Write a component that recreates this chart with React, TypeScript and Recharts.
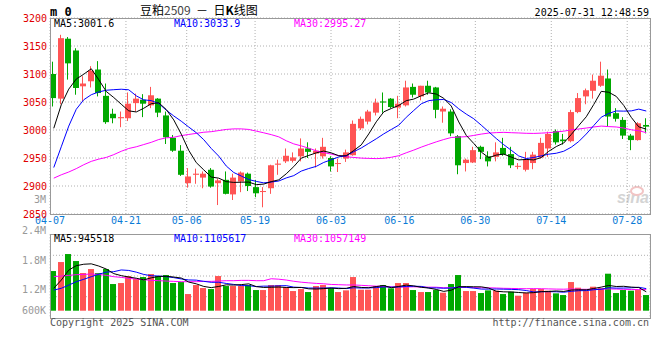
import { ComposedChart, Bar, Line, XAxis, YAxis, CartesianGrid } from 'recharts';

const RED = '#ff5454';
const GREEN = '#00a800';
const BLUE = '#0000ff';
const PINK = '#ff00ff';
const MONO = '"DejaVu Sans Mono", monospace';

const dates = [
  '04-07', '04-08', '04-09', '04-10', '04-11', '04-14', '04-15', '04-16', '04-17', '04-18',
  '04-21', '04-22', '04-23', '04-24', '04-25', '04-28', '04-29', '04-30',
  '05-06', '05-07', '05-08', '05-09', '05-12', '05-13', '05-14', '05-15', '05-16',
  '05-19', '05-20', '05-21', '05-22', '05-23', '05-26', '05-27', '05-28', '05-29', '05-30',
  '06-03', '06-04', '06-05', '06-06', '06-09', '06-10', '06-11', '06-12', '06-13',
  '06-16', '06-17', '06-18', '06-19', '06-20', '06-23', '06-24', '06-25', '06-26', '06-27',
  '06-30', '07-01', '07-02', '07-03', '07-04', '07-07', '07-08', '07-09', '07-10', '07-11',
  '07-14', '07-15', '07-16', '07-17', '07-18', '07-21', '07-22', '07-23', '07-24', '07-25',
  '07-28', '07-29', '07-30', '07-31',
];

const opens = [
  3100, 3056, 3163, 3142, 3078, 3087, 3108, 3061, 3029, 3021,
  3021, 3048, 3054, 3044, 3056, 3026, 2986, 2963, 2905, 2920,
  2915, 2929, 2905, 2911, 2885, 2908, 2922, 2898, 2890, 2896,
  2938, 2944, 2945, 2953, 2967, 2958, 2953, 2950, 2940, 2949,
  2955, 3003, 3015, 3031, 3051, 3056, 3040, 3044, 3077, 3060,
  3079, 3076, 3033, 3033, 2989, 2941, 2942, 2970, 2953, 2952,
  2968, 2957, 2935, 2929, 2941, 2951, 2967, 2998, 2983, 2980,
  3032, 3060, 3070, 3079, 3092, 3030, 3018, 2990, 2982, 3009,
];
const highs = [
  3122, 3170, 3166, 3146, 3096, 3114, 3123, 3083, 3038, 3033,
  3067, 3065, 3064, 3077, 3057, 3033, 2991, 2973, 2932, 2931,
  2926, 2932, 2913, 2926, 2922, 2926, 2924, 2911, 2898, 2938,
  2947, 2967, 2960, 2985, 2978, 2967, 2986, 2953, 2949, 2965,
  3017, 3024, 3036, 3056, 3067, 3057, 3061, 3088, 3083, 3079,
  3088, 3077, 3042, 3037, 2991, 2949, 2970, 2972, 2962, 2978,
  2986, 2970, 2941, 2961, 2961, 2986, 2997, 3001, 2993, 3036,
  3066, 3074, 3099, 3122, 3108, 3039, 3023, 2993, 3014, 3021,
];
const lows = [
  3042, 3046, 3090, 3063, 3052, 3076, 3060, 3011, 3012, 3005,
  3016, 3033, 3023, 3039, 3023, 2975, 2961, 2918, 2897, 2904,
  2896, 2897, 2866, 2885, 2875, 2889, 2891, 2880, 2862, 2886,
  2920, 2941, 2942, 2944, 2950, 2933, 2949, 2926, 2925, 2943,
  2954, 3000, 3010, 3026, 3031, 3039, 3021, 3042, 3058, 3053,
  3063, 3021, 3013, 2989, 2921, 2926, 2941, 2948, 2935, 2944,
  2954, 2932, 2930, 2926, 2930, 2949, 2952, 2974, 2974, 2978,
  3030, 3046, 3056, 3077, 3006, 3015, 2984, 2964, 2981, 2994,
];
const closes = [
  3057, 3164, 3119, 3075, 3083, 3106, 3066, 3014, 3021, 3023,
  3047, 3056, 3047, 3062, 3031, 2987, 2963, 2920, 2917, 2922,
  2922, 2899, 2910, 2886, 2915, 2924, 2900, 2887, 2891, 2937,
  2940, 2954, 2951, 2967, 2961, 2963, 2970, 2935, 2941, 2960,
  3011, 3020, 3033, 3049, 3049, 3041, 3047, 3076, 3063, 3079,
  3067, 3036, 3038, 2994, 2937, 2947, 2964, 2961, 2944, 2960,
  2956, 2937, 2936, 2948, 2956, 2977, 2993, 2978, 2980, 3032,
  3057, 3071, 3088, 3097, 3024, 3020, 2990, 2982, 3012, 3006,
];

const ma5 = [
  3003, 3045, 3073, 3091, 3099.6, 3109.4, 3089.8, 3068.8, 3058.0, 3046.0,
  3034.2, 3032.2, 3038.8, 3047.0, 3048.6, 3036.6, 3018.0, 2992.6, 2963.6, 2941.8,
  2928.8, 2916.0, 2914.0, 2907.8, 2906.4, 2906.8, 2907.0, 2902.4, 2903.4, 2907.8,
  2911.0, 2921.8, 2934.6, 2949.8, 2954.6, 2959.2, 2962.4, 2959.2, 2954.0, 2953.8,
  2963.4, 2973.4, 2993.0, 3014.6, 3032.4, 3038.4, 3043.8, 3052.4, 3055.2, 3061.2,
  3066.4, 3064.2, 3056.6, 3042.8, 3014.4, 2990.4, 2976.0, 2960.6, 2950.6, 2955.2,
  2957.0, 2951.6, 2946.6, 2947.4, 2946.6, 2950.8, 2962.0, 2970.4, 2976.8, 2992.0,
  3008.0, 3023.6, 3045.6, 3069.0, 3067.4, 3060.0, 3043.8, 3022.6, 3005.6, 3001.6,
];
const ma10 = [
  2933, 2970, 3007, 3037, 3054, 3063, 3068, 3071, 3072, 3072.8,
  3071.8, 3061.0, 3053.8, 3052.5, 3047.3, 3035.4, 3025.1, 3015.7, 3005.3, 2995.2,
  2982.7, 2967.0, 2953.3, 2935.7, 2924.1, 2917.8, 2911.5, 2908.2, 2905.6, 2907.1,
  2908.9, 2914.4, 2918.5, 2926.6, 2931.2, 2935.1, 2942.1, 2946.9, 2951.9, 2954.2,
  2961.3, 2967.9, 2976.1, 2984.3, 2993.1, 3000.9, 3008.6, 3022.7, 3034.9, 3046.8,
  3052.4, 3054.0, 3054.5, 3049.0, 3037.8, 3028.4, 3020.1, 3008.6, 2996.7, 2984.8,
  2973.7, 2963.8, 2953.6, 2949.0, 2950.9, 2953.9, 2956.8, 2958.5, 2962.1, 2969.3,
  2979.4, 2992.8, 3008.0, 3022.9, 3029.7, 3034.0, 3033.7, 3034.1, 3037.3, 3033.9,
];
const ma30 = [
  2914, 2920, 2925, 2931, 2938, 2944, 2948, 2951, 2956, 2962,
  2967, 2970, 2974, 2978, 2983, 2986, 2987, 2990, 2992, 2994,
  2996, 2997, 2999, 3001, 3002, 3002, 3001, 2998, 2995, 2991.7,
  2987.8, 2980.8, 2975.2, 2971.6, 2967.5, 2962.8, 2959.6, 2956.9, 2954.3, 2952.2,
  2951.0, 2949.8, 2949.3, 2948.9, 2949.5, 2951.3, 2954.1, 2959.3, 2964.1, 2969.4,
  2974.2, 2978.8, 2983.0, 2986.6, 2987.4, 2988.1, 2990.3, 2992.7, 2994.5, 2995.3,
  2995.8, 2995.2, 2994.7, 2994.1, 2993.9, 2994.4, 2995.2, 2996.6, 2997.9, 3000.3,
  3001.8, 3003.5, 3005.4, 3007.0, 3006.1, 3005.4, 3003.5, 3000.4, 2998.7, 2995.27,
];

const volumes = [
  1983000, 2433000, 2833000, 2483000, 1883000, 2083000, 1883000, 2083000, 1333000, 1383000,
  1733000, 1583000, 1683000, 1833000, 1733000, 1783000, 1383000, 1433000, 833000, 1283000,
  1133000, 1083000, 1733000, 1233000, 1233000, 1233000, 1283000, 1033000, 1033000, 1283000,
  1283000, 1183000, 983000, 1083000, 933000, 1233000, 1283000, 1133000, 933000, 1017000,
  1683000, 1050000, 1050000, 1233000, 1283000, 1117000, 1383000, 1383000, 1033000, 933000,
  933000, 1033000, 900000, 1333000, 1783000, 983000, 983000, 883000, 1017000, 1000000,
  833000, 950000, 750000, 900000, 1083000, 1083000, 1000000, 867000, 783000, 1433000,
  1150000, 983000, 1200000, 1133000, 1850000, 883000, 1033000, 1000000, 1033000, 783000,
];
const volMa5 = [
  1120000, 1530000, 2030000, 2250000, 2323000, 2343000, 2233000, 2083000, 1853000, 1753000,
  1683000, 1623000, 1543000, 1643000, 1713000, 1723000, 1683000, 1633000, 1433000, 1343000,
  1213000, 1153000, 1213000, 1293000, 1283000, 1303000, 1343000, 1203000, 1163000, 1173000,
  1183000, 1163000, 1153000, 1163000, 1093000, 1083000, 1103000, 1133000, 1103000, 1120000,
  1210000, 1163000, 1147000, 1207000, 1260000, 1147000, 1213000, 1280000, 1240000, 1170000,
  1133000, 1063000, 966000, 1026000, 1196000, 1206000, 1196000, 1193000, 1130000, 973000,
  943000, 937000, 910000, 887000, 903000, 953000, 963000, 987000, 963000, 1033000,
  1047000, 1043000, 1110000, 1180000, 1263000, 1210000, 1220000, 1180000, 1160000, 945518,
];
const volMa10 = [
  1030000, 1120000, 1280000, 1450000, 1570000, 1700000, 1820000, 1930000, 1950000, 2038000,
  2013000, 1928000, 1813000, 1748000, 1733000, 1703000, 1653000, 1588000, 1538000, 1528000,
  1468000, 1418000, 1423000, 1363000, 1313000, 1258000, 1248000, 1208000, 1228000, 1228000,
  1243000, 1253000, 1178000, 1163000, 1133000, 1133000, 1133000, 1143000, 1133000, 1106000,
  1146000, 1133000, 1140000, 1155000, 1190000, 1178000, 1188000, 1213000, 1223000, 1215000,
  1140000, 1138000, 1123000, 1133000, 1183000, 1170000, 1130000, 1080000, 1078000, 1085000,
  1075000, 1067000, 1052000, 1008000, 938000, 948000, 950000, 948000, 925000, 968000,
  1000000, 1003000, 1048000, 1072000, 1148000, 1128000, 1132000, 1145000, 1170000, 1105617,
];
const volMa30 = [
  1700000, 1733000, 1767000, 1800000, 1817000, 1833000, 1817000, 1767000, 1700000, 1667000,
  1617000, 1583000, 1550000, 1517000, 1500000, 1483000, 1467000, 1450000, 1450000, 1450000,
  1467000, 1467000, 1483000, 1500000, 1500000, 1517000, 1517000, 1500000, 1500000, 1598000,
  1575000, 1533000, 1471000, 1425000, 1393000, 1365000, 1345000, 1313000, 1300000, 1287000,
  1286000, 1268000, 1247000, 1227000, 1212000, 1190000, 1190000, 1188000, 1195000, 1183000,
  1176000, 1175000, 1147000, 1150000, 1169000, 1160000, 1150000, 1145000, 1145000, 1135000,
  1120000, 1113000, 1105000, 1099000, 1104000, 1099000, 1089000, 1080000, 1075000, 1089000,
  1072000, 1069000, 1074000, 1071000, 1090000, 1082000, 1070000, 1058000, 1058000, 1057149,
];

const tickLabels = ['04-07', '04-21', '05-06', '05-19', '06-03', '06-16', '06-30', '07-14', '07-28'];
const tickIdx = tickLabels.map((l) => dates.indexOf(l));
const priceTicks = [2850, 2900, 2950, 3000, 3050, 3100, 3150, 3200];

const data = dates.map((d, i) => ({
  d,
  i,
  open: opens[i],
  high: highs[i],
  low: lows[i],
  close: closes[i],
  range: [lows[i], highs[i]],
  ma5: ma5[i],
  ma10: ma10[i],
  ma30: ma30[i],
  vol: volumes[i],
  vma5: volMa5[i],
  vma10: volMa10[i],
  vma30: volMa30[i],
}));

const Candle = (props: any) => {
  const { x, y, width, height, payload } = props;
  if (!payload) return null;
  const top = Math.min(y, y + height);
  const span = Math.abs(height);
  const k = span / Math.max(payload.high - payload.low, 1);
  const yo = top + (payload.high - payload.open) * k;
  const yc = top + (payload.high - payload.close) * k;
  const color = payload.close >= payload.open ? RED : GREEN;
  const left = Math.round(x + width / 2 - 3.75);
  const bt = Math.min(yo, yc);
  const bh = Math.max(Math.abs(yo - yc), 1);
  return (
    <g>
      <rect x={left + 2} y={top} width={1} height={span} fill={color} />
      <rect x={left} y={bt} width={6} height={bh} fill={color} />
    </g>
  );
};

const VolBar = (props: any) => {
  const { x, y, width, height, payload } = props;
  if (!payload) return null;
  const color = payload.close >= payload.open ? RED : GREEN;
  const left = Math.round(x + width / 2 - 3.75);
  return <rect x={left} y={Math.min(y, y + height)} width={6} height={Math.abs(height)} fill={color} />;
};

const T = ({ x, y, c = '#000', s = 10, right, bold, font = MONO, children }: any) => (
  <div
    style={{
      position: 'absolute',
      top: y,
      ...(right ? { right: 660 - x } : { left: x }),
      color: c,
      fontSize: s,
      lineHeight: `${s}px`,
      fontFamily: font,
      fontWeight: bold ? 'bold' : 'normal',
      whiteSpace: 'pre',
    }}
  >
    {children}
  </div>
);

export default function App() {
  return (
    <div style={{ position: 'absolute', left: 0, top: 0, width: 660, height: 360, background: '#fff', overflow: 'hidden' }}>
      {/* sina watermark */}
      <div style={{ position: 'absolute', left: 617, top: 190, fontSize: 16, fontWeight: 'bold', fontStyle: 'italic', color: '#d4d4d4', fontFamily: 'Arial, sans-serif', lineHeight: '16px' }}>
        sina
      </div>
      <div style={{ position: 'absolute', left: 630, top: 186, width: 10, height: 6, borderRadius: '50%', border: '2px solid #f2c4c4' }} />

      <div style={{ position: 'absolute', left: 0, top: 0 }}>
        <ComposedChart width={660} height={232} data={data} margin={{ top: 18, right: 10, bottom: 0, left: 0 }}>
          <CartesianGrid xAxisId="num" yAxisId="p" stroke="#b0b0b0" strokeDasharray="1 2" />
          <XAxis
            xAxisId="num"
            dataKey="i"
            type="number"
            domain={[0, 79]}
            ticks={tickIdx}
            interval={0}
            allowDataOverflow
            tickFormatter={(v: number) => dates[v]}
            axisLine={false}
            tickLine={false}
            tickSize={0}
            tickMargin={3}
            height={18}
            tick={{ fill: '#0a7bd6', fontSize: 10, fontFamily: MONO }}
          />
          <XAxis xAxisId="cat" dataKey="d" hide height={0} />
          <YAxis
            yAxisId="p"
            domain={[2850, 3200]}
            ticks={priceTicks}
            interval={0}
            width={50}
            axisLine={false}
            tickLine={false}
            tickSize={0}
            tickMargin={3}
            tick={{ fill: '#e00000', fontSize: 10, fontFamily: MONO }}
          />
          <Bar xAxisId="cat" yAxisId="p" dataKey="range" barSize={6} isAnimationActive={false} shape={(p: any) => <Candle {...p} />} />
          <Line xAxisId="cat" yAxisId="p" dataKey="ma30" type="linear" stroke={PINK} strokeWidth={1} dot={false} isAnimationActive={false} />
          <Line xAxisId="cat" yAxisId="p" dataKey="ma10" type="linear" stroke={BLUE} strokeWidth={1} dot={false} isAnimationActive={false} />
          <Line xAxisId="cat" yAxisId="p" dataKey="ma5" type="linear" stroke="#000" strokeWidth={1} dot={false} isAnimationActive={false} />
        </ComposedChart>
      </div>

      <div style={{ position: 'absolute', left: 0, top: 228 }}>
        <ComposedChart width={660} height={102} data={data} margin={{ top: 6.3, right: 10, bottom: 11.7, left: 50 }}>
          <CartesianGrid xAxisId="num" yAxisId="v" stroke="#b0b0b0" strokeDasharray="1 2" horizontalPoints={[27.3, 48, 68.7]} />
          <XAxis
            xAxisId="num"
            dataKey="i"
            type="number"
            domain={[0, 79]}
            ticks={tickIdx}
            interval={0}
            tick={false}
            axisLine={false}
            tickLine={false}
            height={0}
          />
          <XAxis xAxisId="cat" dataKey="d" hide height={0} />
          <YAxis yAxisId="v" domain={[-380000, 3820000]} hide />
          <Bar xAxisId="cat" yAxisId="v" dataKey="vol" barSize={6} isAnimationActive={false} shape={(p: any) => <VolBar {...p} />} />
          <Line xAxisId="cat" yAxisId="v" dataKey="vma30" type="linear" stroke={PINK} strokeWidth={1} dot={false} isAnimationActive={false} />
          <Line xAxisId="cat" yAxisId="v" dataKey="vma10" type="linear" stroke={BLUE} strokeWidth={1} dot={false} isAnimationActive={false} />
          <Line xAxisId="cat" yAxisId="v" dataKey="vma5" type="linear" stroke="#000" strokeWidth={1} dot={false} isAnimationActive={false} />
        </ComposedChart>
      </div>

      <svg width={660} height={360} style={{ position: 'absolute', left: 0, top: 0, pointerEvents: 'none' }}>
        <rect x={50.5} y={18.5} width={600} height={196} fill="none" stroke="#999" />
        <rect x={50.5} y={234.5} width={600} height={84} fill="none" stroke="#999" />
      </svg>

      <T x={50} y={6} s={12} bold>m 0</T>
      <div style={{ position: 'absolute', left: 140, top: 4, fontSize: 12, lineHeight: '12px', fontFamily: '"Noto Sans CJK SC", sans-serif', whiteSpace: 'pre', color: '#000' }}>
        豆粕<span style={{ color: '#444' }}>2509</span>  －  日<b>K</b>线图
      </div>
      <T x={649} y={8} right>2025-07-31 12:48:59</T>

      <T x={54} y={19}>MA5:3001.6</T>
      <T x={174} y={19} c={BLUE}>MA10:3033.9</T>
      <T x={294} y={19} c={PINK}>MA30:2995.27</T>

      <T x={46} y={195} c="#999" right>3M</T>
      <T x={46} y={226} c="#999" right>2.4M</T>
      <T x={46} y={256} c="#999" right>1.8M</T>
      <T x={46} y={285} c="#999" right>1.2M</T>
      <T x={46} y={306} c="#999" right>600K</T>

      <T x={54} y={234}>MA5:945518</T>
      <T x={174} y={234} c={BLUE}>MA10:1105617</T>
      <T x={294} y={234} c={PINK}>MA30:1057149</T>

      <T x={50} y={318} c="#555">Copyright 2025 SINA.COM</T>
      <T x={649} y={318} c="#555" right>http://finance.sina.com.cn</T>
    </div>
  );
}
